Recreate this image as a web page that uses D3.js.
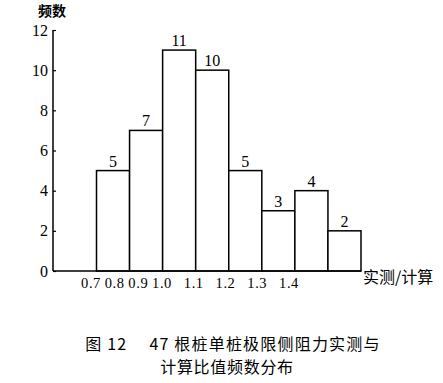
<!DOCTYPE html>
<html><head><meta charset="utf-8">
<script src="https://cdn.jsdelivr.net/npm/d3@7"></script>
<style>body{margin:0;background:#fff}svg{display:block}</style>
</head><body>
<script>
const binStarts = [0.7, 0.8, 0.9, 1.0, 1.1, 1.2, 1.3, 1.4];
const counts = [5, 7, 11, 10, 5, 3, 4, 2];
const tickLabels = ["0.7", "0.8", "0.9", "1.0", "1.1", "1.2", "1.3", "1.4"];
const yTicks = [0, 2, 4, 6, 8, 10, 12];
const yTitle = "频数";
const xTitle = "实测/计算";
const caption1 = "图 12\u3000 47 根桩单桩极限侧阻力实测与";
const caption2 = "计算比值频数分布";

const W = 443, H = 383;
const serif = "'Liberation Serif','DejaVu Serif',serif";
const cjk = "'Noto Sans CJK SC','Noto Sans',sans-serif";
const svg = d3.select("body").append("svg").attr("width", W).attr("height", H);

const axisX0 = 53;
const x = d3.scaleLinear().domain([0.7, 1.5]).range([96.5, 361]);
const y = d3.scaleLinear().domain([0, 12]).range([271, 30]);
// label positions in the original drift from the bar edges
const xl = d3.scaleLinear().domain([0.7, 1.0, 1.4]).range([91, 162, 289]);

// bars
svg.selectAll("rect.bar").data(binStarts).join("rect")
  .attr("x", d => x(d)).attr("y", (d, i) => y(counts[i]))
  .attr("width", d => x(d + 0.1) - x(d)).attr("height", (d, i) => y(0) - y(counts[i]))
  .attr("fill", "#fff").attr("stroke", "#000").attr("stroke-width", 1.5);

// value labels
svg.selectAll("text.val").data(binStarts).join("text")
  .attr("x", d => x(d + 0.05)).attr("y", (d, i) => y(counts[i]) - 4)
  .attr("text-anchor", "middle").attr("font-family", serif).attr("font-size", 16)
  .text((d, i) => counts[i]);

// y axis
const ya = svg.append("g").attr("transform", `translate(${axisX0},0)`)
  .call(d3.axisLeft(y).tickValues(yTicks).tickSize(-3).tickPadding(5).tickFormat(d3.format("d")));
ya.select(".domain").attr("stroke-width", 1.5).attr("d", `M0,${y(12)}V${y(0)}`);
ya.selectAll(".tick line").attr("stroke-width", 1.2);
ya.selectAll(".tick text").attr("font-family", serif).attr("font-size", 16).attr("fill", "#000");

// x axis line
svg.append("line").attr("x1", axisX0).attr("x2", x(1.5)).attr("y1", y(0)).attr("y2", y(0))
  .attr("stroke", "#000").attr("stroke-width", 1.5);

// x tick labels
svg.selectAll("text.xl").data(binStarts).join("text")
  .attr("x", d => xl(d)).attr("y", 288)
  .attr("text-anchor", "middle").attr("font-family", serif).attr("font-size", 14.5)
  .attr("letter-spacing", 0.6)
  .text((d, i) => tickLabels[i]);

// titles
svg.append("text").attr("x", 52).attr("y", 16).attr("text-anchor", "middle")
  .attr("font-family", cjk).attr("font-size", 14).attr("font-weight", "bold").text(yTitle);
svg.append("text").attr("x", 363).attr("y", 283)
  .attr("font-family", cjk).attr("font-size", 16).text(xTitle);

svg.append("text").attr("x", 233).attr("y", 350).attr("text-anchor", "middle")
  .attr("font-family", cjk).attr("font-size", 16).attr("letter-spacing", 1.2).text(caption1);
svg.append("text").attr("x", 227).attr("y", 373).attr("text-anchor", "middle")
  .attr("font-family", cjk).attr("font-size", 16).attr("letter-spacing", 0.7).text(caption2);
</script>
</body></html>
